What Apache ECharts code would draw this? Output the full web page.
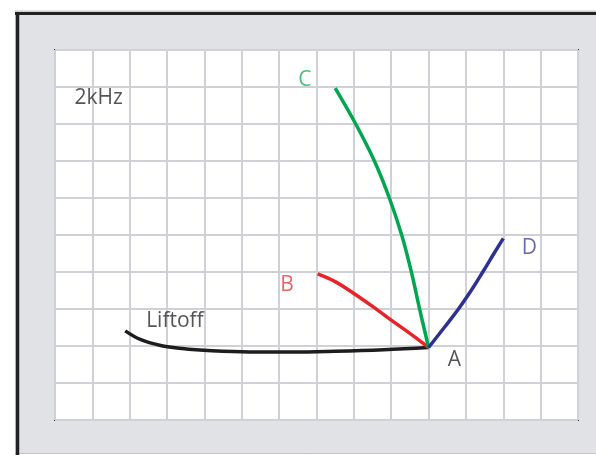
<!DOCTYPE html>
<html>
<head>
<meta charset="utf-8">
<script src="https://cdn.jsdelivr.net/npm/echarts@6/dist/echarts.min.js"></script>
<style>
  html, body { margin: 0; padding: 0; background: #fff; }
  #chart { width: 596px; height: 455px; }
</style>
</head>
<body>
<div id="chart"></div>
<script>
// traces in grid units (14 x 10 divisions), all ending at point A
var liftoff = [[1.88, 2.41], [2.3, 2.17], [2.8, 2.02], [3.4, 1.93], [4.2, 1.87], [5.2, 1.84], [6.3, 1.84], [7.5, 1.86], [8.8, 1.9], [10.0, 1.96]];
var traceB = [[7.03, 3.95], [7.5, 3.74], [8.0, 3.42], [8.5, 3.07], [9.0, 2.7], [9.5, 2.34], [10.0, 1.96]];
var traceC = [[7.5, 8.97], [8.05, 8.0], [8.55, 7.0], [8.95, 6.0], [9.28, 5.0], [9.54, 4.0], [9.76, 3.0], [10.0, 1.96]];
var traceD = [[10.0, 1.96], [10.42, 2.5], [10.8, 3.0], [11.14, 3.5], [11.45, 4.0], [11.75, 4.5], [12.0, 4.91]];

// text annotations (grid units)
var labelNames = ['2kHz', 'Liftoff', 'C', 'B', 'D', 'A'];
var labelX = [1.17, 3.21, 6.69, 6.21, 12.7, 10.69];
var labelY = [8.7, 2.68, 9.18, 3.64, 4.65, 1.62];
var labelColors = ['#2b2b2b', '#2b2b2b', '#1fae5a', '#ee3b3b', '#45459c', '#2b2b2b'];

var chart = echarts.init(document.getElementById('chart'));

var labelData = labelNames.map(function (n, i) {
  return { name: n, value: [labelX[i], labelY[i]], label: { color: labelColors[i] } };
});

function trace(name, data, color) {
  return {
    name: name,
    type: 'line',
    data: data,
    smooth: 0.4,
    showSymbol: false,
    silent: true,
    lineStyle: { color: color, width: 3.5 },
    z: 3
  };
}

var option = {
  backgroundColor: '#ffffff',
  animation: false,
  graphic: [
    { type: 'rect', z: -10, shape: { x: 15, y: 11, width: 600, height: 443 }, style: { fill: '#e1e2e6' } },
    { type: 'line', z: -9, shape: { x1: 15, y1: 11, x2: 596, y2: 11 }, style: { stroke: '#c4c5c8', lineWidth: 1 } },
    { type: 'line', z: -9, shape: { x1: 15, y1: 453.5, x2: 596, y2: 453.5 }, style: { stroke: '#c4c5c8', lineWidth: 1 } },
    { type: 'line', z: -8, shape: { x1: 15, y1: 13.5, x2: 596, y2: 13.5 }, style: { stroke: '#222222', lineWidth: 3 } },
    { type: 'line', z: -8, shape: { x1: 17.5, y1: 12, x2: 17.5, y2: 455 }, style: { stroke: '#222222', lineWidth: 3.5 } }
  ],
  grid: {
    left: 55, top: 50, right: 18, bottom: 35,
    show: true,
    backgroundColor: '#ffffff',
    borderColor: '#2a2a2a',
    borderWidth: 2
  },
  xAxis: {
    type: 'value', min: 0, max: 14, interval: 1,
    axisLine: { show: false }, axisTick: { show: false }, axisLabel: { show: false },
    splitLine: { lineStyle: { color: '#cfd1d6', width: 2 } }
  },
  yAxis: {
    type: 'value', min: 0, max: 10, interval: 1,
    axisLine: { show: false }, axisTick: { show: false }, axisLabel: { show: false },
    splitLine: { lineStyle: { color: '#cfd1d6', width: 2 } }
  },
  series: [
    trace('Liftoff', liftoff, '#1e1c1c'),
    trace('B', traceB, '#ec2227'),
    trace('C', traceC, '#00a650'),
    trace('D', traceD, '#2e3192'),
    {
      type: 'scatter',
      data: labelData,
      symbolSize: 1,
      silent: true,
      itemStyle: { color: 'rgba(0,0,0,0)' },
      label: {
        show: true,
        position: 'inside',
        formatter: function (p) { return p.name; },
        fontFamily: 'Open Sans',
        fontSize: 21
      },
      z: 4
    }
  ]
};

chart.setOption(option);
</script>
</body>
</html>
